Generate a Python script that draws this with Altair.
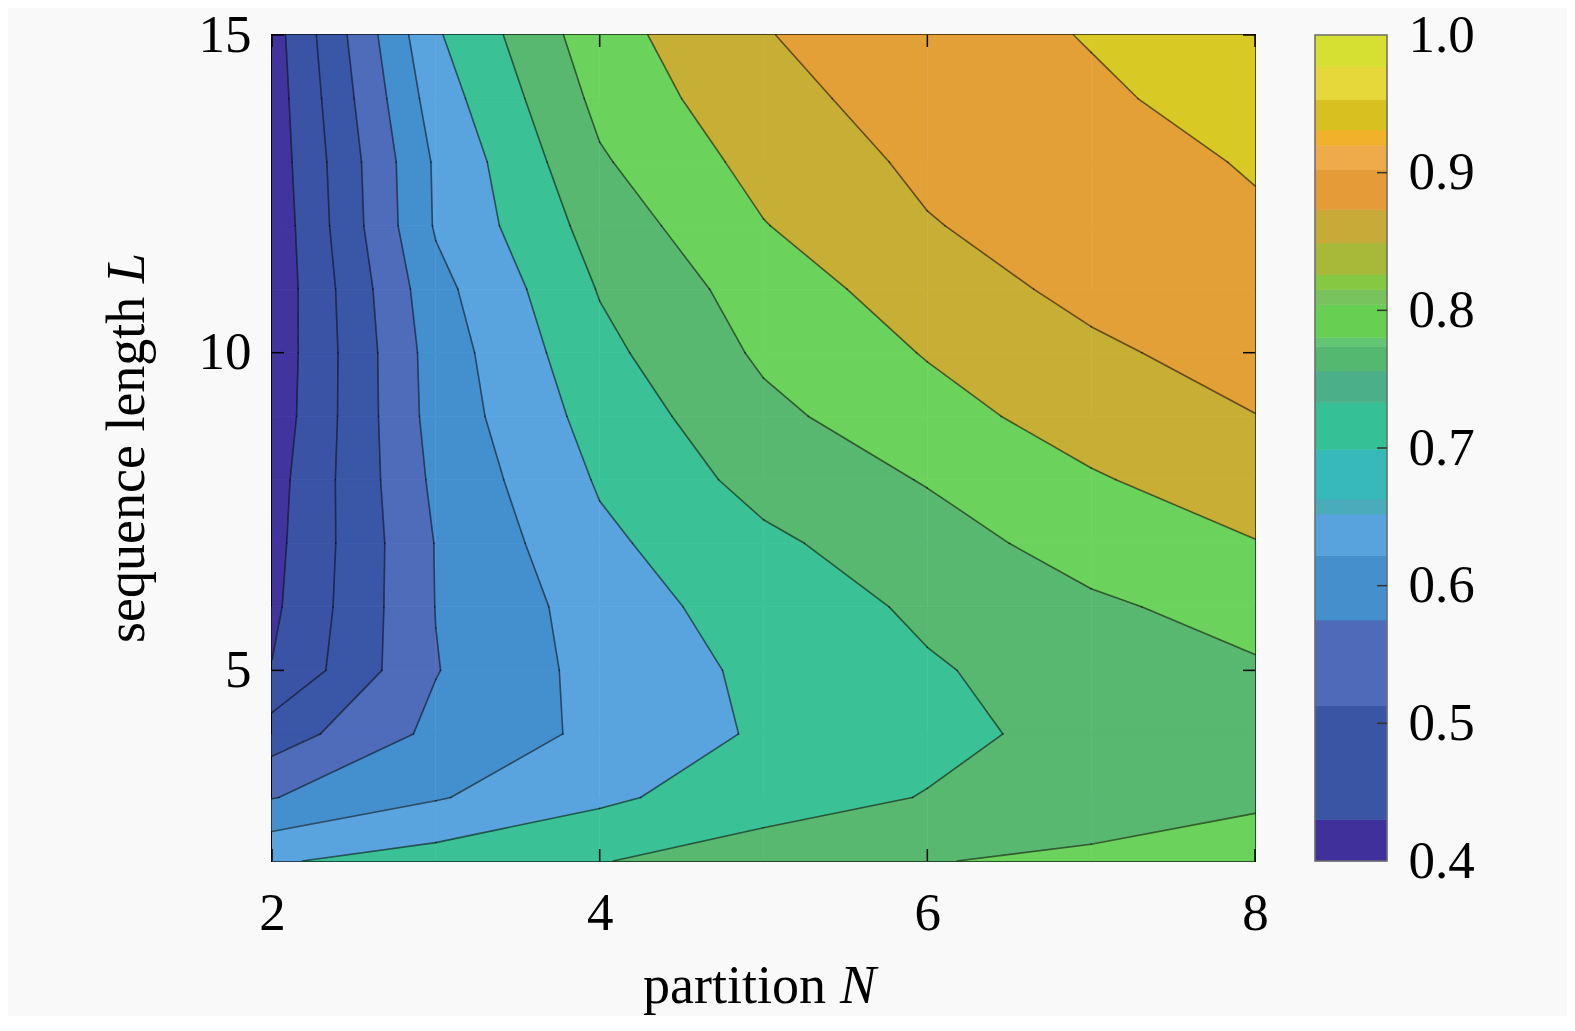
import math
import altair as alt
import pandas as pd

# ---------------- data ----------------
N_VALUES = [2, 3, 4, 5, 6, 7, 8]
L_VALUES = [2, 3, 4, 5, 6, 7, 8, 9, 10, 11, 12, 13, 14, 15]

# value at L = 2..15 for each partition N
COL_N2 = [0.695, 0.598, 0.524, 0.452, 0.440, 0.435, 0.430, 0.420, 0.417, 0.415, 0.416, 0.421, 0.424, 0.428]
COL_N3 = [0.722, 0.646, 0.612, 0.598, 0.601, 0.602, 0.611, 0.620, 0.623, 0.634, 0.655, 0.657, 0.675, 0.694]
COL_N4 = [0.748, 0.690, 0.661, 0.667, 0.672, 0.690, 0.705, 0.720, 0.737, 0.753, 0.771, 0.794, 0.813, 0.830]
COL_N5 = [0.772, 0.730, 0.707, 0.711, 0.727, 0.740, 0.767, 0.788, 0.808, 0.823, 0.848, 0.867, 0.887, 0.898]
COL_N6 = [0.798, 0.752, 0.738, 0.746, 0.757, 0.780, 0.803, 0.832, 0.853, 0.876, 0.897, 0.910, 0.918, 0.925]
COL_N7 = [0.809, 0.775, 0.764, 0.768, 0.792, 0.820, 0.845, 0.872, 0.891, 0.913, 0.925, 0.935, 0.942, 0.953]
COL_N8 = [0.815, 0.795, 0.785, 0.794, 0.818, 0.848, 0.878, 0.899, 0.920, 0.932, 0.945, 0.953, 0.970, 0.975]

LEVELS = [0.45, 0.50, 0.55, 0.60, 0.65, 0.70, 0.75, 0.80, 0.85, 0.90, 0.95]
BAND_COLORS = ["#41349f", "#3a53a4", "#3a56a7", "#4f6cbb", "#4490cf", "#59a4de",
               "#3bc196", "#58b870", "#6bd35c", "#c7ae35", "#e3a036", "#d9c925"]

CB_EDGES = [0.400, 0.430, 0.513, 0.575, 0.622, 0.652, 0.663, 0.699, 0.733, 0.756, 0.774,
            0.780, 0.804, 0.815, 0.826, 0.849, 0.873, 0.902, 0.920, 0.931, 0.953, 0.977, 1.000]
CB_COLORS = ["#40309c", "#3a55a3", "#4e6ab8", "#4590cc", "#58a3dd", "#4aabbb", "#36b9b8",
             "#35c096", "#4bb08a", "#55b870", "#62c674", "#67d052", "#78c35e", "#85c841",
             "#a8b839", "#c8aa38", "#e49b38", "#efaa4a", "#f2b12a", "#d9c021", "#e6d73a", "#d6e032"]

X_TICKS = [2, 4, 6, 8]
Y_TICKS = [5, 10, 15]
CB_TICKS = [0.4, 0.5, 0.6, 0.7, 0.8, 0.9, 1.0]

FONT = "Liberation Serif"
W, H = 983, 826

# ---------------- filled contour bands (linear marching squares) ----------------
COLS = [COL_N2, COL_N3, COL_N4, COL_N5, COL_N6, COL_N7, COL_N8]


def val(i, j):
    return COLS[i][j]


def clip(poly, level, above):
    out = []
    n = len(poly)
    for a in range(n):
        p = poly[a]
        q = poly[(a + 1) % n]
        pin = p[2] >= level if above else p[2] <= level
        qin = q[2] >= level if above else q[2] <= level
        if pin:
            out.append(p)
        if pin != qin:
            t = (level - p[2]) / (q[2] - p[2])
            out.append((p[0] + t * (q[0] - p[0]), p[1] + t * (q[1] - p[1]), level))
    return out


def area(poly):
    s = 0.0
    for a in range(len(poly)):
        x1, y1, _ = poly[a]
        x2, y2, _ = poly[(a + 1) % len(poly)]
        s += x1 * y2 - x2 * y1
    return abs(s) / 2


bounds = [-math.inf] + LEVELS + [math.inf]
poly_rows = []
seg_rows = []
pid = 0
sid = 0
for i in range(len(N_VALUES) - 1):
    for j in range(len(L_VALUES) - 1):
        quad = [
            (N_VALUES[i], L_VALUES[j], val(i, j)),
            (N_VALUES[i + 1], L_VALUES[j], val(i + 1, j)),
            (N_VALUES[i + 1], L_VALUES[j + 1], val(i + 1, j + 1)),
            (N_VALUES[i], L_VALUES[j + 1], val(i, j + 1)),
        ]
        fmin = min(q[2] for q in quad)
        fmax = max(q[2] for q in quad)
        for b in range(len(BAND_COLORS)):
            lo, hi = bounds[b], bounds[b + 1]
            if hi < fmin or lo > fmax:
                continue
            poly = quad
            if lo > -math.inf:
                poly = clip(poly, lo, True)
            if len(poly) >= 3 and hi < math.inf:
                poly = clip(poly, hi, False)
            clean = []
            for p in poly:
                if not clean or abs(p[0] - clean[-1][0]) + abs(p[1] - clean[-1][1]) > 1e-9:
                    clean.append(p)
            if len(clean) >= 3 and area(clean) > 1e-7:
                for k, p in enumerate(clean):
                    poly_rows.append({"pid": pid, "k": k, "N": p[0], "L": p[1], "band": b})
                pid += 1
        # contour line segments
        edges = [(quad[0], quad[1]), (quad[1], quad[2]), (quad[2], quad[3]), (quad[3], quad[0])]
        for lev in LEVELS:
            pts = []
            for p, q in edges:
                if (p[2] - lev) * (q[2] - lev) < 0:
                    t = (lev - p[2]) / (q[2] - p[2])
                    pts.append((p[0] + t * (q[0] - p[0]), p[1] + t * (q[1] - p[1])))
            for a in range(0, len(pts) - 1, 2):
                for k, p in enumerate([pts[a], pts[a + 1]]):
                    seg_rows.append({"sid": sid, "k": k, "N": p[0], "L": p[1]})
                sid += 1

poly_df = pd.DataFrame(poly_rows)
seg_df = pd.DataFrame(seg_rows)

# ---------------- chart ----------------
xs = alt.Scale(domain=[2, 8], nice=False, zero=False)
ys = alt.Scale(domain=[2, 15], nice=False, zero=False)


def mk_axis(values, pad, fmt, orient=None, offset=None):
    kw = dict(values=values, format=fmt, title=None, grid=False, domain=False, ticks=False,
              tickSize=0, labelPadding=pad, labelFont=FONT, labelFontSize=53,
              labelColor="black", labelFlush=False, labelOverlap=False)
    if orient is not None:
        kw["orient"] = orient
    if offset is not None:
        kw["offset"] = offset
    return alt.Axis(**kw)


X = alt.X("N:Q", scale=xs, axis=mk_axis(X_TICKS, 26, "d"))
Y = alt.Y("L:Q", scale=ys, axis=mk_axis(Y_TICKS, 21, "d"))

band_scale = alt.Scale(domain=list(range(len(BAND_COLORS))), range=BAND_COLORS)

fills = alt.Chart(poly_df).mark_line(filled=True, strokeWidth=0.8, strokeJoin="round").encode(
    x=X, y=Y, detail="pid:N", order="k:Q",
    fill=alt.Fill("band:O", scale=band_scale, legend=None),
    stroke=alt.Stroke("band:O", scale=band_scale, legend=None),
)

lines = alt.Chart(seg_df).mark_line(color="black", strokeOpacity=0.55, strokeWidth=1.6,
                                    strokeCap="round").encode(
    x=X, y=Y, detail="sid:N", order="k:Q"
)

xt_df = pd.DataFrame({"N": X_TICKS})
yt_df = pd.DataFrame({"L": Y_TICKS})
tick_style = dict(color="black", strokeWidth=1.5)
t_bottom = alt.Chart(xt_df).mark_rule(**tick_style).encode(x=X, y=alt.value(H), y2=alt.value(H - 12))
t_top = alt.Chart(xt_df).mark_rule(**tick_style).encode(x=X, y=alt.value(0), y2=alt.value(12))
t_left = alt.Chart(yt_df).mark_rule(**tick_style).encode(y=Y, x=alt.value(0), x2=alt.value(12))
t_right = alt.Chart(yt_df).mark_rule(**tick_style).encode(y=Y, x=alt.value(W), x2=alt.value(W - 12))


def label(text, x, y, angle=0, italic=False):
    return alt.Chart(pd.DataFrame({"t": [text]})).mark_text(
        font=FONT, fontSize=54, fontStyle="italic" if italic else "normal",
        align="left", baseline="alphabetic", angle=angle, color="black"
    ).encode(text="t:N", x=alt.value(x), y=alt.value(y))


x_title_a = label("partition", 371, 968)
x_title_b = label("N", 568, 968, italic=True)
y_title_a = label("sequence length", -128, 608, angle=270)
y_title_b = label("L", -128, 248, angle=270, italic=True)

main = alt.layer(fills, lines, t_bottom, t_top, t_left, t_right,
                 x_title_a, x_title_b, y_title_a, y_title_b)

cb_df = pd.DataFrame({"lo": CB_EDGES[:-1], "hi": CB_EDGES[1:], "c": CB_COLORS})
cb_scale = alt.Scale(domain=[0.4, 1.0], nice=False, zero=False)
CBY = alt.Y("lo:Q", scale=cb_scale, axis=mk_axis(CB_TICKS, 21, ".1f", orient="right", offset=132))
CB_X0, CB_X1 = 1043, 1115

cb_rects = alt.Chart(cb_df).mark_rect(strokeWidth=0.6).encode(
    x=alt.value(CB_X0), x2=alt.value(CB_X1), y=CBY, y2="hi:Q",
    fill=alt.Fill("c:N", scale=None), stroke=alt.Stroke("c:N", scale=None)
)
cb_frame = alt.Chart(pd.DataFrame({"lo": [0.4], "hi": [1.0]})).mark_rect(
    fillOpacity=0, stroke="#6e6e6e", strokeWidth=1.5
).encode(x=alt.value(CB_X0), x2=alt.value(CB_X1), y=CBY, y2="hi:Q")
cb_ticks = alt.Chart(pd.DataFrame({"lo": CB_TICKS[1:-1]})).mark_rule(
    color="#333333", strokeWidth=1.5
).encode(y=CBY, x=alt.value(CB_X1 - 10), x2=alt.value(CB_X1))

colorbar = alt.layer(cb_rects, cb_frame, cb_ticks)

chart = alt.layer(main, colorbar).resolve_scale(
    y="independent", fill="independent", stroke="independent"
).properties(
    width=W, height=H,
    padding={"left": 264, "top": 27, "right": 312, "bottom": 155},
    autosize=alt.AutoSizeParams(type="none"),
    background="#f9f9f9",
).configure_view(stroke="black", strokeWidth=2)

chart.save("out.html", embed_options={"renderer": "svg", "actions": False})
